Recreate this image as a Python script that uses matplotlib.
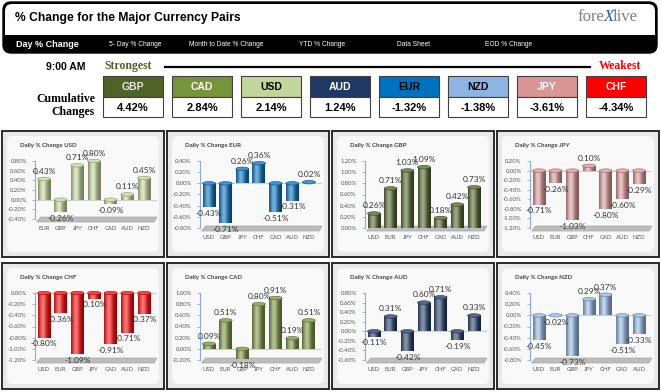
import numpy as np
import matplotlib.pyplot as plt
from matplotlib.patches import Rectangle, FancyBboxPatch, Ellipse, Polygon
from matplotlib.colors import to_rgb

W, H = 662, 392

# ---- data ----
tabs = ['Day % Change', '5- Day % Change', 'Month to Date % Change',
        'YTD % Change', 'Data Sheet', 'EOD % Change']
tab_x = [16, 109, 189, 299, 397, 485]

ranking = ['GBP', 'CAD', 'USD', 'AUD', 'EUR', 'NZD', 'JPY', 'CHF']
cumulative = [4.42, 2.84, 2.14, 1.24, -1.32, -1.38, -3.61, -4.34]

currencies = ['USD', 'EUR', 'GBP', 'JPY', 'CHF', 'CAD', 'AUD', 'NZD']
usd = [0.43, -0.26, 0.71, 0.80, -0.09, 0.11, 0.45]
eur = [-0.43, -0.71, 0.26, 0.36, -0.51, -0.31, 0.02]
gbp = [0.26, 0.71, 1.03, 1.09, 0.18, 0.42, 0.73]
jpy = [-0.71, -0.26, -1.03, 0.10, -0.80, -0.60, -0.29]
chf = [-0.80, -0.36, -1.09, -0.10, -0.91, -0.71, -0.37]
cad = [0.09, 0.51, -0.18, 0.80, 0.91, 0.19, 0.51]
aud = [-0.11, 0.31, -0.42, 0.60, 0.71, -0.19, 0.33]
nzd = [-0.45, -0.02, -0.73, 0.29, 0.37, -0.51, -0.33]
daily = [usd, eur, gbp, jpy, chf, cad, aud, nzd]
y_ranges = [(-0.4, 0.8), (-0.8, 0.4), (0.0, 1.2), (-1.2, 0.2),
            (-1.2, 0.0), (-0.2, 1.0), (-0.6, 0.8), (-0.8, 0.4)]

colors = {'GBP': '#4f6228', 'CAD': '#77933c', 'USD': '#c3d69b', 'AUD': '#1f3864',
          'EUR': '#0070c0', 'NZD': '#8db4e2', 'JPY': '#da9694', 'CHF': '#ff0000'}
box_text = {'GBP': '#e6e6e6', 'CAD': 'white', 'USD': 'black', 'AUD': 'white',
            'EUR': 'black', 'NZD': 'black', 'JPY': 'white', 'CHF': 'white'}

narrow = ['Liberation Sans', 'DejaVu Sans']
chartfont = ['Lato', 'DejaVu Sans']

fig = plt.figure(figsize=(W / 100, H / 100), dpi=100)
bg = fig.add_axes([0, 0, 1, 1])
bg.set_xlim(0, W)
bg.set_ylim(H, 0)
bg.axis('off')

# header block
bg.add_patch(FancyBboxPatch((3, 2), 654, 51, boxstyle='round,pad=0,rounding_size=8',
                            facecolor='black', edgecolor='black', lw=1))
bg.add_patch(FancyBboxPatch((5, 4), 650, 40, boxstyle='round,pad=0,rounding_size=7',
                            facecolor='white', edgecolor='none'))
bg.add_patch(Rectangle((4, 35), 652, 10, facecolor='black', edgecolor='none'))
bg.text(15, 18, '% Change for the Major Currency Pairs', fontsize=8.7, fontweight='bold',
        family=narrow, va='center', ha='left', color='black')
bg.text(604, 17, 'fore', fontsize=12, family='Liberation Serif', color='#7f7f7f',
        ha='right', va='center')
bg.text(609, 17, 'X', fontsize=12, family='Liberation Serif', color='#1f5fa8',
        ha='center', va='center', style='italic')
bg.text(613, 17, 'live', fontsize=12, family='Liberation Serif', color='#7f7f7f',
        ha='left', va='center')
for i, (t, x) in enumerate(zip(tabs, tab_x)):
    bg.text(x, 44, t, color='white', family=narrow, va='center', ha='left',
            fontsize=6.5 if i == 0 else 4.8, fontweight='bold' if i == 0 else 'normal')

# strongest / weakest strip
bg.text(66, 67, '9:00 AM', fontsize=7.5, fontweight='bold', family=narrow, ha='center', va='center')
bg.text(104, 66, 'Strongest', fontsize=8.5, fontweight='bold', family='Liberation Serif',
        color='#4f6228', ha='left', va='center')
bg.text(641, 66, 'Weakest', fontsize=8.5, fontweight='bold', family='Liberation Serif',
        color='#ff0000', ha='right', va='center')
bg.plot([165, 590], [67, 67], color='black', lw=1.6)
bg.text(95, 99, 'Cumulative', fontsize=8.5, fontweight='bold', family='Liberation Serif',
        ha='right', va='center')
bg.text(95, 112, 'Changes', fontsize=8.5, fontweight='bold', family='Liberation Serif',
        ha='right', va='center')
for i, (cur, val) in enumerate(zip(ranking, cumulative)):
    x0 = 103 + 69 * i
    bg.add_patch(Rectangle((x0, 76), 60, 21, facecolor=colors[cur], edgecolor='#404040', lw=0.8))
    bg.add_patch(Rectangle((x0, 97), 60, 20, facecolor='white', edgecolor='#404040', lw=0.8))
    bg.text(x0 + 30, 86.5, cur, fontsize=7.5, fontweight='bold', family=narrow,
            color=box_text[cur], ha='center', va='center')
    bg.text(x0 + 30, 107.5, f'{val:.2f}%', fontsize=8, fontweight='bold', family=narrow,
            color='black', ha='center', va='center')


def cylinder(c, n=40):
    base = np.array(to_rgb(c))
    t = np.linspace(0, 1, n)
    dark = base * 0.6
    light = base + (1 - base) * 0.45
    p = np.exp(-((t - 0.38) / 0.3) ** 2)
    return (dark + (light - dark) * p[:, None])[None, :, :]


panel_x = [2, 167, 332, 497]
panel_y = [131, 263]
PW, PH = 162, 126

for k, cur in enumerate(currencies):
    px = panel_x[k % 4]
    py = panel_y[k // 4]
    vals = daily[k]
    cats = [c for c in currencies if c != cur]
    col = colors[cur]
    lo, hi = y_ranges[k]

    bg.add_patch(Rectangle((px, py), PW, PH, facecolor='#e9e9e9', edgecolor='#1a1a1a', lw=1.3))
    bg.add_patch(FancyBboxPatch((px + 5, py + 5), PW - 10, PH - 10,
                                boxstyle='round,pad=0,rounding_size=6',
                                facecolor='#f9f9f9', edgecolor='none'))
    bg.text(px + 18, py + 14, f'Daily % Change {cur}', fontsize=4.4, fontweight='bold',
            family=chartfont, color='#404040', ha='left', va='center')

    top_px = 30
    bot_px = 88 if cur == 'USD' else 97
    u = (hi - lo) / (bot_px - top_px)
    ax = fig.add_axes([(px + 33) / W, 1 - (py + bot_px + 5) / H, 122 / W,
                       (bot_px + 5 - 26) / H])
    ax.patch.set_alpha(0)

    # floor slab
    ax.add_patch(Polygon([(-0.45, lo - 3 * u), (6.6, lo - 3 * u), (6.78, lo + 2 * u),
                          (-0.2, lo + 2 * u)], closed=True, facecolor='#bdbdbd',
                         edgecolor='#a6a6a6', lw=0.5, zorder=1))
    if lo < 0:
        ax.axhline(0, color='#cfcfcf', lw=0.8, zorder=1)

    x = np.arange(len(vals))
    bars = ax.bar(x, vals, width=0.78, color=col, zorder=3)
    grad = cylinder(col)
    for b, v in zip(bars, vals):
        x0 = b.get_x()
        x1 = x0 + b.get_width()
        y0, y1 = min(0, v), max(0, v)
        im = ax.imshow(grad, extent=[x0, x1, y0, y1], aspect='auto', zorder=3,
                       interpolation='bilinear')
        im.set_clip_path(b)
        ax.add_patch(Ellipse((b.get_x() + b.get_width() / 2, y1), b.get_width(), 3.5 * u,
                             facecolor=np.array(to_rgb(col)) * 0.75 + 0.25,
                             edgecolor=np.array(to_rgb(col)) * 0.7, lw=0.4, zorder=4))
    for i, v in enumerate(vals):
        ax.annotate(f'{v:.2f}%', (i, v), xytext=(0, 3 if v >= 0 else -2),
                    textcoords='offset points', ha='center',
                    va='bottom' if v >= 0 else 'top', fontsize=6, family=chartfont,
                    color='#333333', zorder=6)

    ax.set_xlim(-0.54, 6.78)
    ax.set_ylim(lo - 5 * u, hi + 4 * u)
    ticks = np.round(np.arange(lo, hi + 1e-9, 0.2), 2)
    ax.set_yticks(ticks)
    ax.set_yticklabels([f'{abs(t):.2f}%' if abs(t) < 1e-9 else f'{t:.2f}%' for t in ticks])
    ax.set_xticks(x)
    ax.set_xticklabels(cats)
    for s in ['top', 'right', 'bottom']:
        ax.spines[s].set_visible(False)
    ax.spines['left'].set_color('#8eaadb')
    ax.spines['left'].set_linewidth(0.8)
    ax.spines['left'].set_bounds(lo, hi)
    ax.tick_params(axis='y', length=2, width=0.6, color='#8eaadb', labelsize=4.3,
                   labelcolor='#595959', pad=4)
    ax.tick_params(axis='x', length=0, labelsize=4.3, labelcolor='#595959', pad=1.5)
    for lab in ax.get_xticklabels() + ax.get_yticklabels():
        lab.set_family(chartfont)

fig.savefig('out.png', dpi=100)
